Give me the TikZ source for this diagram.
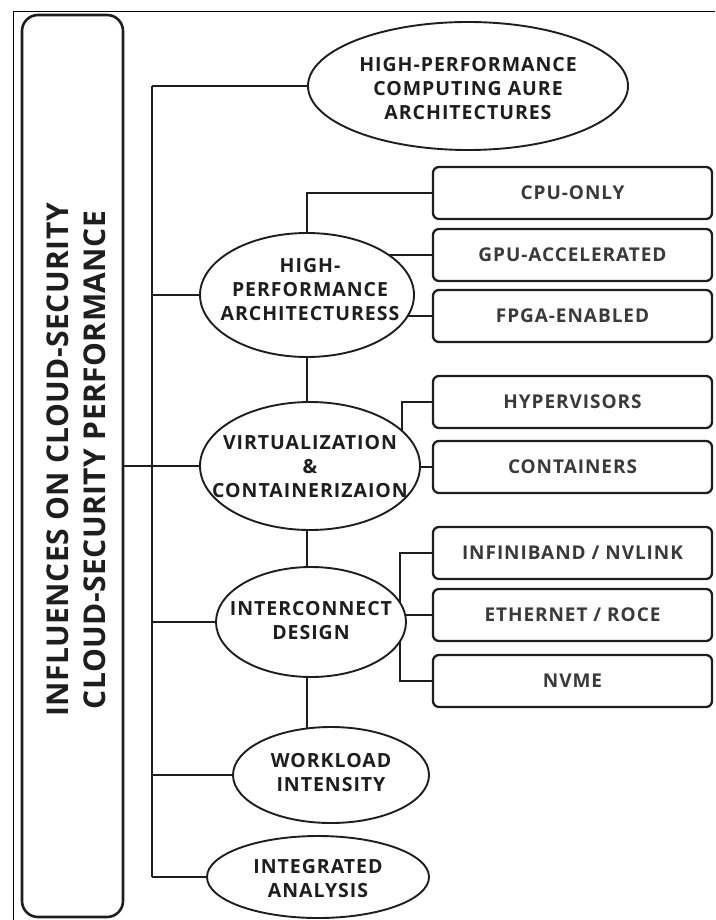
\documentclass[tikz,border=0pt]{standalone}
\usepackage{fontspec}
\setmainfont{Open Sans}
\newfontfamily\labelfont{Open Sans}[LetterSpace=5]
\newfontfamily\titlefont{Open Sans}[LetterSpace=1.5]
\usetikzlibrary{shapes.geometric,backgrounds,calc}
\definecolor{ink}{HTML}{1E1E1E}
\definecolor{boxink}{HTML}{3A3A3A}
\tikzset{
  oval/.style={ellipse, draw=ink, line width=1.9pt, fill=white, inner sep=0pt},
  ovaltext/.style={inner sep=0pt, align=center, text=ink,
    font=\labelfont\fontsize{19.5}{24}\selectfont\bfseries},
  leafbox/.style={rectangle, rounded corners=6pt, draw=ink, line width=2.3pt, fill=white,
    minimum width=279pt, minimum height=52pt, inner sep=0pt, text=boxink,
    font=\labelfont\fontsize{19}{24}\selectfont\bfseries},
  rootbox/.style={rectangle, rounded corners=16pt, draw=ink, line width=2.6pt, fill=white,
    minimum width=101pt, minimum height=902pt, inner sep=0pt},
  link/.style={draw=ink, line width=2.1pt},
}
\begin{document}
\begin{tikzpicture}[x=1pt, y=-1pt]
\useasboundingbox (0,0) rectangle (715,920);

% outer frame
\draw[line width=0.9pt] (13,920) -- (13,11) -- (715,11);

% root box with rotated title
\node[rootbox] (root) at (72.5,466) {};
\node[rotate=90, align=center, text=ink, font=\titlefont\fontsize{30}{37}\selectfont\bfseries]
  (title) at (76,460) {INFLUENCES ON CLOUD-SECURITY\\CLOUD-SECURITY PERFORMANCE};

% main factors: outline first, caption on top
\node[oval, minimum width=320pt, minimum height=128pt] (top) at (468,86) {};
\node[ovaltext] (top-t) at (468,89) {HIGH-PERFORMANCE\\COMPUTING AURE\\ARCHITECTURES};
\node[oval, minimum width=214pt, minimum height=124pt] (hpa) at (307,295) {};
\node[ovaltext] (hpa-t) at (310,290) {HIGH-\\PERFORMANCE\\ARCHITECTURESS};
\node[oval, minimum width=220pt, minimum height=128pt] (vc) at (310,466) {};
\node[ovaltext] (vc-t) at (310,467) {VIRTUALIZATION\\\&\\CONTAINERIZAION};
\node[oval, minimum width=190pt, minimum height=110pt] (ic) at (311,622) {};
\node[ovaltext] (ic-t) at (311,621) {INTERCONNECT\\DESIGN};
\node[oval, minimum width=196pt, minimum height=96pt] (wl) at (331,775) {};
\node[ovaltext] (wl-t) at (331,773) {WORKLOAD\\INTENSITY};
\node[oval, minimum width=222pt, minimum height=82pt] (ia) at (318,877) {};
\node[ovaltext] (ia-t) at (318,879) {INTEGRATED\\ANALYSIS};

% leaf boxes
\node[leafbox] (cpu) at (572.5,193) {CPU-ONLY};
\node[leafbox] (gpu) at (572.5,255) {GPU-ACCELERATED};
\node[leafbox] (fpga) at (572.5,316) {FPGA-ENABLED};
\node[leafbox] (hyp) at (572.5,402) {HYPERVISORS};
\node[leafbox] (cont) at (572.5,467) {CONTAINERS};
\node[leafbox] (inf) at (572.5,553) {INFINIBAND / NVLINK};
\node[leafbox] (eth) at (572.5,615) {ETHERNET / ROCE};
\node[leafbox] (nvme) at (572.5,681) {NVME};

% junction points
\coordinate (sp) at (152,87);
\coordinate (vcj) at (402,466);
\coordinate (icj) at (400,622);

\begin{scope}[on background layer]
  % spine and branches
  \draw[link] (top.west -| sp) -- (ia.center -| sp);
  \draw[link] (top.west -| sp) -- (top.center);
  \draw[link] (hpa.center -| sp) -- (hpa.center);
  \draw[link] (root.center |- vc.center) -- (vc.center);
  \draw[link] (ic.center -| sp) -- (ic.center);
  \draw[link] (wl.center -| sp) -- (wl.center);
  \draw[link] (ia.center -| sp) -- (ia.center);
  % vertical chain
  \draw[link] (hpa.center) -- (hpa.center |- wl.center);
  % architecture leaves
  \draw[link] (cpu.west) -| (hpa.center);
  \draw[link] (gpu.west) -- (gpu.west -| hpa.center);
  \draw[link] (fpga.west) -- (fpga.west -| hpa.center);
  % virtualization leaves
  \draw[link] (hyp.west) -| (vcj);
  \draw[link] (cont.west) -- (cont.west -| vc.center);
  % interconnect leaves
  \draw[link] (inf.west) -| (icj);
  \draw[link] (nvme.west) -| (icj);
  \draw[link] (eth.west) -- (eth.west -| ic.center);
\end{scope}
\end{tikzpicture}
\end{document}
